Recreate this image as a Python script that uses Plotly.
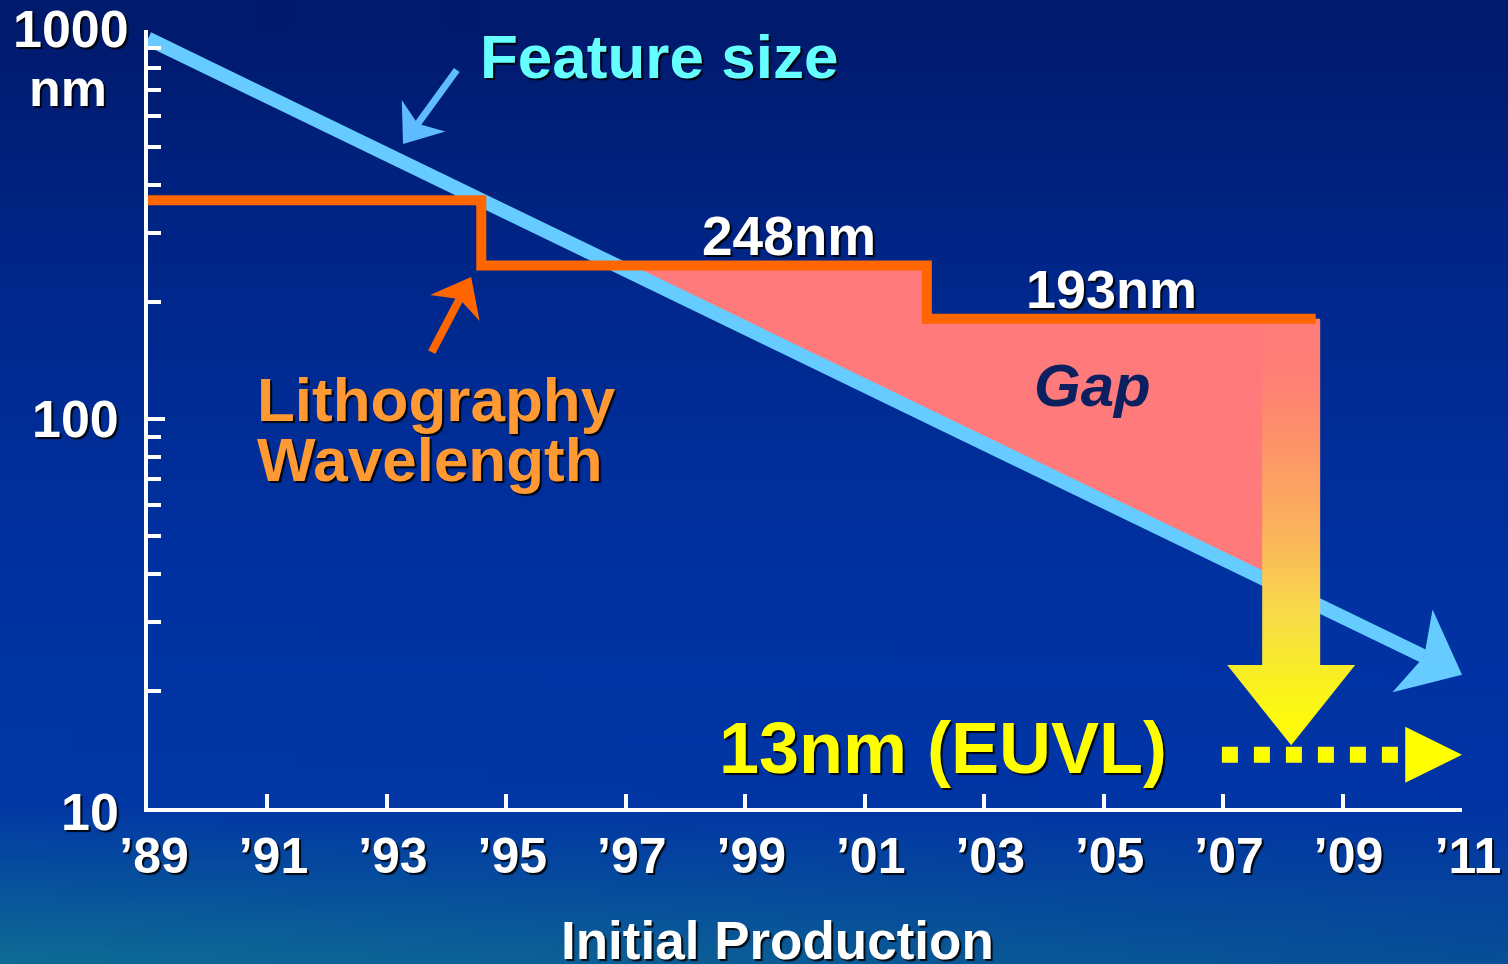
import math, zlib, struct, base64
import numpy as np
import plotly.graph_objects as go

W, H = 1508, 964

# ---------------- data ----------------
x_tick_years = [1989, 1991, 1993, 1995, 1997, 1999, 2001, 2003, 2005, 2007, 2009, 2011]
x_tick_labels = ["’89", "’91", "’93", "’95", "’97", "’99", "’01", "’03", "’05", "’07", "’09", "’11"]
y_tick_values = [10, 100, 1000]
y_tick_labels = ["10", "100", "1000"]
y_minor_values = [20, 30, 40, 50, 60, 70, 80, 90, 200, 300, 400, 500, 600, 700, 800, 900]

feature_years = [1989, 2011]
feature_nm = [950, 22]

litho_years = [1989, 1994.58, 2002.04, 2008.55]
litho_nm = [365, 248, 181, 181]
litho_labels = ["248nm", "193nm"]

euvl_nm = 13.7
euvl_years = [2006.98, 2009.93]
gap_arrow_year = 2008.14
gap_arrow_head_nm = 23.3
gap_arrow_tip_nm = 14.5

# ---------------- geometry helpers ----------------
X0, X1 = 148, 1462          # pixel of 1989 / 2011
YB, DEC = 808, 389          # pixel of 10 nm, px per decade


def to_px(year, nm):
    return X0 + (year - 1989) * (X1 - X0) / 22.0, YB - (math.log10(nm) - 1) * DEC


def to_data(x, y):
    return 1989 + (x - X0) * 22.0 / (X1 - X0), 10 ** (1 + (YB - y) / DEC)


def arrow_pts(tail, tip, shaft_w, head_len, head_hw, notch, shaft=True):
    tx, ty = to_px(*tail)
    hx, hy = to_px(*tip)
    dx, dy = hx - tx, hy - ty
    L = math.hypot(dx, dy)
    ux, uy = dx / L, dy / L
    nx, ny = -uy, ux
    bx, by = hx - head_len * ux, hy - head_len * uy
    Nx, Ny = hx - (head_len - notch) * ux, hy - (head_len - notch) * uy
    bp = (bx + head_hw * nx, by + head_hw * ny)
    bm = (bx - head_hw * nx, by - head_hw * ny)
    if shaft:
        s = shaft_w / 2.0
        t = s / head_hw
        jp = (Nx + t * (bp[0] - Nx), Ny + t * (bp[1] - Ny))
        jm = (Nx + t * (bm[0] - Nx), Ny + t * (bm[1] - Ny))
        pts = [(tx + s * nx, ty + s * ny), jp, bp, (hx, hy), bm, jm, (tx - s * nx, ty - s * ny)]
    else:
        pts = [(Nx, Ny), bp, (hx, hy), bm]
    pts.append(pts[0])
    xs, ys = zip(*[to_data(*p) for p in pts])
    return list(xs), list(ys), (Nx, Ny)


def log_interp(year, years, vals):
    a, b = math.log10(vals[0]), math.log10(vals[1])
    return 10 ** (a + (b - a) * (year - years[0]) / (years[1] - years[0]))


# ---------------- background image ----------------
bw, bh = 80, 52
u = np.linspace(0, 1, bw)[None, :]
v = np.linspace(0, 1, bh)[:, None]
stops_v = [0.0, 0.3, 0.6, 0.84, 1.0]
cols_left = np.array([[0, 26, 108], [0, 40, 140], [0, 50, 162], [2, 56, 165], [14, 106, 150]], float)
cols_right = np.array([[0, 26, 108], [0, 40, 140], [0, 50, 162], [2, 52, 165], [8, 78, 152]], float)
img = np.zeros((bh, bw, 3))
for c in range(3):
    left = np.interp(v[:, 0], stops_v, cols_left[:, c])[:, None]
    right = np.interp(v[:, 0], stops_v, cols_right[:, c])[:, None]
    img[:, :, c] = left * (1 - u) + right * u
img = np.clip(img, 0, 255).astype(np.uint8)


def png_bytes(arr):
    h, w, _ = arr.shape
    raw = b"".join(b"\x00" + arr[r].tobytes() for r in range(h))

    def chunk(t, d):
        return struct.pack(">I", len(d)) + t + d + struct.pack(">I", zlib.crc32(t + d) & 0xffffffff)

    return (b"\x89PNG\r\n\x1a\n" + chunk(b"IHDR", struct.pack(">IIBBBBB", w, h, 8, 2, 0, 0, 0))
            + chunk(b"IDAT", zlib.compress(raw, 9)) + chunk(b"IEND", b""))


bg_src = "data:image/png;base64," + base64.b64encode(png_bytes(img)).decode()

# ---------------- traces ----------------
fig = go.Figure()

# gap polygon
a0, a1 = math.log10(feature_nm[0]), math.log10(feature_nm[1])
slope = (a1 - a0) / (feature_years[1] - feature_years[0])
x_cross = feature_years[0] + (math.log10(litho_nm[1]) - a0) / slope
x_right = litho_years[3]
gap_x = [x_cross, litho_years[2], litho_years[2], x_right, x_right, x_cross]
gap_y = [litho_nm[1], litho_nm[1], litho_nm[2], litho_nm[2],
         log_interp(x_right, feature_years, feature_nm), litho_nm[1]]
fig.add_trace(go.Scatter(x=gap_x, y=gap_y, mode="lines", fill="toself", fillcolor="#ff7b7b",
                         line=dict(width=0, color="#ff7b7b"), hoverinfo="skip"))

# feature size line + head
hx, hy, notch = arrow_pts((feature_years[0], feature_nm[0]), (feature_years[1], feature_nm[1]),
                          14, 55, 46, 13, shaft=False)
ny_, nv_ = to_data(*notch)
fig.add_trace(go.Scatter(x=[feature_years[0], ny_], y=[feature_nm[0], nv_], mode="lines",
                         line=dict(color="#66ccff", width=14), hoverinfo="skip"))
fig.add_trace(go.Scatter(x=hx, y=hy, mode="lines", fill="toself", fillcolor="#66ccff",
                         line=dict(width=0, color="#66ccff"), hoverinfo="skip"))

# big gradient arrow (gap -> EUVL)
cx = to_px(gap_arrow_year, 100)[0]
_, y_top = to_px(gap_arrow_year, litho_nm[2])
_, y_head = to_px(gap_arrow_year, gap_arrow_head_nm)
x_tip, y_tip = to_px(gap_arrow_year, gap_arrow_tip_nm)
ga = [(cx - 29, y_top), (cx - 29, y_head), (cx - 64, y_head), (x_tip, y_tip), (cx + 64, y_head),
      (cx + 29, y_head), (cx + 29, y_top), (cx - 29, y_top)]
gax, gay = zip(*[to_data(*p) for p in ga])
fig.add_trace(go.Scatter(x=list(gax), y=list(gay), mode="lines", fill="toself",
                         fillgradient=dict(type="vertical",
                                           colorscale=[[0, "#ffff00"], [0.15, "#f8f020"], [0.3, "#f8dc48"],
                                                       [0.5, "#fbb35c"], [0.7, "#fd9468"], [0.85, "#ff8074"],
                                                       [1, "#ff7b7b"]]),
                         line=dict(width=0), hoverinfo="skip"))

# lithography wavelength step line
fig.add_trace(go.Scatter(x=litho_years, y=litho_nm, mode="lines", line_shape="hv",
                         line=dict(color="#ff6600", width=10), hoverinfo="skip"))

# EUVL dotted arrow
fig.add_trace(go.Scatter(x=euvl_years, y=[euvl_nm, euvl_nm], mode="lines",
                         line=dict(color="#ffff00", width=16, dash="16px,16px"), hoverinfo="skip"))
bx_, _ = to_px(2010.05, euvl_nm)
tx_, ty_ = to_px(2011, euvl_nm)
tri = [(bx_, ty_ - 28), (tx_, ty_), (bx_, ty_ + 28), (bx_, ty_ - 28)]
trx, try_ = zip(*[to_data(*p) for p in tri])
fig.add_trace(go.Scatter(x=list(trx), y=list(try_), mode="lines", fill="toself", fillcolor="#ffff00",
                         line=dict(width=0, color="#ffff00"), hoverinfo="skip"))

# pointer arrows
px_, py_, _ = arrow_pts((1994.17, 789), (1993.27, 509), 7, 35, 27, 10)
fig.add_trace(go.Scatter(x=px_, y=py_, mode="lines", fill="toself", fillcolor="#5ebcff",
                         line=dict(width=0, color="#5ebcff"), hoverinfo="skip"))
px_, py_, _ = arrow_pts((1993.75, 148.6), (1994.41, 231.7), 8, 35, 28, 10)
fig.add_trace(go.Scatter(x=px_, y=py_, mode="lines", fill="toself", fillcolor="#ff6600",
                         line=dict(width=0, color="#ff6600"), hoverinfo="skip"))

# ---------------- annotations ----------------
FONT = "Liberation Sans, Arial, sans-serif"
SHADOW = "2px 2px 1px rgba(0,0,0,0.9)"


def ann(text, x, y, size, color, xanchor="center", italic=False, shadow=True):
    return dict(text=text, x=x / W, y=1 - y / H, xref="paper", yref="paper", showarrow=False,
                xanchor=xanchor, yanchor="middle",
                font=dict(family=FONT, size=size, color=color, weight="bold",
                          style="italic" if italic else "normal",
                          shadow=SHADOW if shadow else "none"))


annotations = [
    ann(y_tick_labels[2], 131, 29, 52, "white", xanchor="right"),
    ann("nm", 68, 88, 52, "white"),
    ann(y_tick_labels[1], 121, 419, 52, "white", xanchor="right"),
    ann(y_tick_labels[0], 121, 812, 52, "white", xanchor="right"),
    ann("Feature size", 659, 56, 62, "#66ffff"),
    ann("Lithography", 255, 399, 62, "#ff9933", xanchor="left"),
    ann("Wavelength", 255, 459, 62, "#ff9933", xanchor="left"),
    ann(litho_labels[0], 789, 236, 55, "white"),
    ann(litho_labels[1], 1111, 289, 54, "white"),
    ann("Gap", 1092, 385, 60, "#0c1f5e", italic=True, shadow=False),
    ann("13nm (EUVL)", 943, 748, 72, "#ffff00"),
    ann("Initial Production", 777, 940, 53, "white"),
]

fig.update_layout(
    template="none",
    width=W, height=H,
    margin=dict(l=0, r=0, t=0, b=0, pad=0, autoexpand=False),
    paper_bgcolor="#0030a0", plot_bgcolor="rgba(0,0,0,0)",
    showlegend=False,
    images=[dict(source=bg_src, xref="paper", yref="paper", x=0, y=1, sizex=1, sizey=1,
                 xanchor="left", yanchor="top", sizing="stretch", layer="below")],
    annotations=annotations,
    xaxis=dict(domain=[X0 / W, X1 / W], range=[1989, 2011], showgrid=False, zeroline=False,
               automargin=False,
               showline=True, linecolor="white", linewidth=4,
               tickmode="array", tickvals=x_tick_years, ticktext=x_tick_labels,
               ticks="inside", ticklen=14, tickwidth=4, tickcolor="white",
               ticklabelstandoff=1, ticklabelshift=6,
               tickfont=dict(family=FONT, size=50, color="white", weight="bold", shadow=SHADOW)),
    yaxis=dict(domain=[1 - YB / H, 1 - (YB - 2 * DEC) / H], type="log", range=[1, 3],
               automargin=False,
               showgrid=False, zeroline=False, showline=True, linecolor="white", linewidth=4,
               tickmode="array", tickvals=y_tick_values, ticks="inside", ticklen=17, tickwidth=4,
               tickcolor="white", showticklabels=False,
               minor=dict(tickmode="array", tickvals=y_minor_values, ticks="inside", ticklen=13,
                          tickwidth=4, tickcolor="white", showgrid=False)),
)

fig.write_html("out.html", config={"displayModeBar": False},
               post_script="document.body.style.margin='0';document.body.style.overflow='hidden';")
